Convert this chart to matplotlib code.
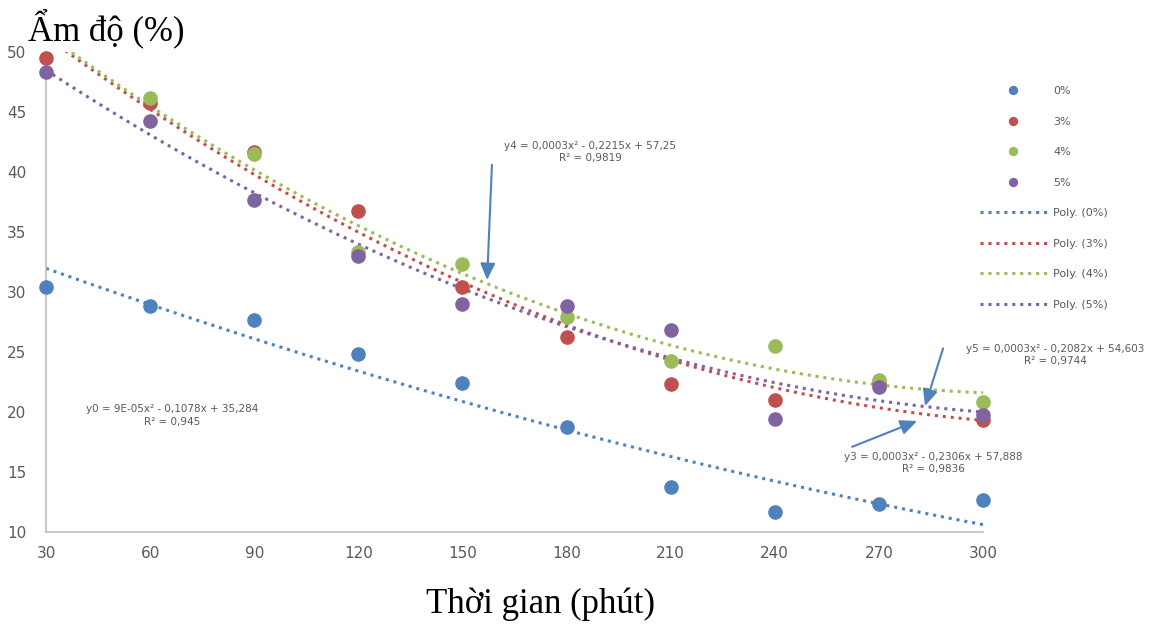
import numpy as np
import matplotlib
matplotlib.use("Agg")
import matplotlib.pyplot as plt

# ---- data ----
times = [30, 60, 90, 120, 150, 180, 210, 240, 270, 300]
s0 = [30.4, 28.8, 27.7, 24.8, 22.4, 18.75, 13.75, 11.7, 12.3, 12.7]
s3 = [49.5, 45.75, 41.7, 36.75, 30.4, 26.25, 22.3, 21.0, 22.4, 19.3]
s4 = [51.0, 46.2, 41.5, 33.3, 32.3, 27.9, 24.25, 25.5, 22.7, 20.8]
s5 = [48.3, 44.25, 37.7, 33.0, 29.0, 28.8, 26.8, 19.4, 22.1, 19.75]
series_labels = ["0%", "3%", "4%", "5%"]
colors = ["#4F81BD", "#C0504D", "#9BBB59", "#8064A2"]
xticks = [30, 60, 90, 120, 150, 180, 210, 240, 270, 300]
yticks = [10, 15, 20, 25, 30, 35, 40, 45, 50]

eq_texts = [
    "y0 = 9E-05x² - 0,1078x + 35,284\nR² = 0,945",
    "y3 = 0,0003x² - 0,2306x + 57,888\nR² = 0,9836",
    "y4 = 0,0003x² - 0,2215x + 57,25\nR² = 0,9819",
    "y5 = 0,0003x² - 0,2082x + 54,603\nR² = 0,9744",
]

YMIN, YMAX = 10, 50

fig = plt.figure(figsize=(11.73, 6.26), dpi=100)
ax = fig.add_axes([46/1173, 1-532/626, (983-46)/1173, (532-52)/626])

all_series = [s0, s3, s4, s5]
xs = np.linspace(30, 300, 300)
fit_lines = []
for s, c in zip(all_series, colors):
    coef = np.polyfit(times, s, 2)
    ln, = ax.plot(xs, np.polyval(coef, xs), color=c, lw=2.2,
                  linestyle=(0, (1, 1.6)), zorder=2)
    fit_lines.append(ln)
pts = []
for s, c in zip(all_series, colors):
    t_in = [t for t, v in zip(times, s) if YMIN <= v <= YMAX]
    v_in = [v for v in s if YMIN <= v <= YMAX]
    p, = ax.plot(t_in, v_in, 'o', color=c, ms=9.5, zorder=3, clip_on=False)
    pts.append(p)

ax.set_xlim(30, 300)
ax.set_ylim(YMIN, YMAX)
ax.set_xticks(xticks)
ax.set_yticks(yticks)
for sp in ["top", "right"]:
    ax.spines[sp].set_visible(False)
for sp in ["left", "bottom"]:
    ax.spines[sp].set_color("#BFBFBF")
    ax.spines[sp].set_linewidth(1.2)
ax.tick_params(length=0, labelsize=11, labelcolor="#595959", pad=10)
ax.tick_params(axis='y', pad=14)

fig.text(28/1173, 1-28/626, "Ẩm độ (%)", fontsize=25, family="Liberation Serif",
         va="center", ha="left")
fig.text(540/1173, 1-604/626, "Thời gian (phút)", fontsize=25,
         family="Liberation Serif", va="center", ha="center")

tcol = "#595959"
arrow = dict(arrowstyle="-|>,head_length=1.0,head_width=0.45", color="#4F81BD",
             lw=1.5, shrinkA=0, shrinkB=0)
ax.text(66.3, 19.7, eq_texts[0], fontsize=7.5, color=tcol, ha="center",
        va="center", linespacing=1.3)
ax.text(186.8, 41.67, eq_texts[2], fontsize=7.5, color=tcol, ha="center",
        va="center", linespacing=1.3)
ax.text(285.6, 15.75, eq_texts[1], fontsize=7.5, color=tcol, ha="center",
        va="center", linespacing=1.3)
ax.text(320.8, 24.75, eq_texts[3], fontsize=7.5, color=tcol, ha="center",
        va="center", linespacing=1.3, clip_on=False)
ax.annotate("", xy=(157.1, 31.0), xytext=(158.5, 40.6), arrowprops=arrow)
ax.annotate("", xy=(281.0, 19.25), xytext=(262.3, 17.1), arrowprops=arrow)
ax.annotate("", xy=(283.3, 20.5), xytext=(288.5, 25.3), arrowprops=arrow,
            annotation_clip=False)

handles = pts + fit_lines
labels = series_labels + ["Poly. (%s)" % l for l in series_labels]
leg = fig.legend(handles, labels, loc="upper left",
                 bbox_to_anchor=(970/1173, 1-76/626), frameon=False,
                 fontsize=8, labelcolor=tcol, handlelength=6.0,
                 labelspacing=1.85, handletextpad=0.6, markerscale=0.6)

fig.savefig("out.png", dpi=100)
